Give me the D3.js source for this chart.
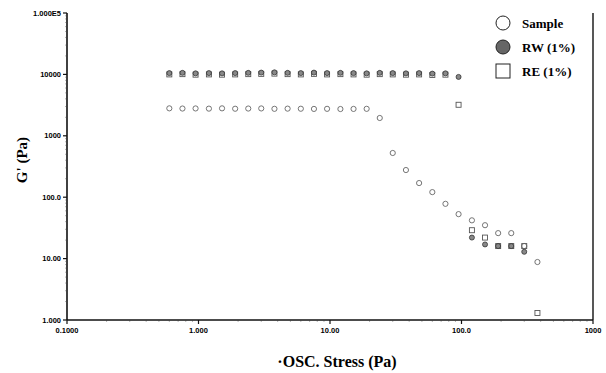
<!DOCTYPE html>
<html>
<head>
<meta charset="utf-8">
<script src="https://cdn.jsdelivr.net/npm/d3@7"></script>
<style>
  body { margin: 0; background: #fff; }
  svg { display: block; }
</style>
</head>
<body>
<svg id="viz" width="606" height="373"></svg>
<script>
// oscillation stress (Pa), one value per measuring point
var stress = [0.6, 0.755, 0.95, 1.2, 1.51, 1.9, 2.39, 3.0, 3.78, 4.76, 6.0, 7.55, 9.5, 12.0, 15.1,
              19.0, 23.9, 30.0, 37.8, 47.6, 60.0, 75.5, 95.0, 120, 151, 190, 239, 300, 378];
// G' (Pa) per series, null = no point
var sampleG = [2800, 2780, 2790, 2770, 2800, 2760, 2780, 2790, 2750, 2770, 2760, 2740, 2750, 2730, 2740,
               2750, 1950, 525, 277, 170, 121, 78, 53, 42, 35, 26, 26, 16, 8.8];
var rwG = [10500, 10600, 10400, 10500, 10400, 10500, 10600, 10700, 10800, 10600, 10500, 10700, 10500, 10600, 10500,
           10400, 10600, 10500, 10400, 10500, 10300, 10400, 9100, 22, 17, 16, 16, 12.9, null];
var reG = [10000, 10100, 9900, 10000, 9900, 10000, 10100, 10200, 10300, 10100, 10000, 10200, 10000, 10100, 10000,
           9900, 10100, 10000, 9900, 10000, 9800, 9900, 3200, 29, 22, 16, 16, 16, 1.3];

var xTicks = [0.1, 1, 10, 100, 1000];
var xTickLabels = ["0.1000", "1.000", "10.00", "100.0", "1000"];
var yTicks = [1, 10, 100, 1000, 10000, 100000];
var yTickLabels = ["1.000", "10.00", "100.0", "1000", "10000", "1.000E5"];

var legendNames = ["Sample", "RW (1%)", "RE (1%)"];

var svg = d3.select("#viz");

var xScale = d3.scaleLog().domain([0.1, 1000]).range([67, 593]);
var yScale = d3.scaleLog().domain([1, 100000]).range([320, 13]);

// minor ticks (log decades)
var xMinor = [], yMinor = [];
xTicks.slice(0, -1).forEach(function(t){ for(var k = 2; k < 10; k++) xMinor.push(t * k); });
yTicks.slice(0, -1).forEach(function(t){ for(var k = 2; k < 10; k++) yMinor.push(t * k); });

var axisCol = "#111";

// x axis
var xAxis = svg.append("g").attr("transform", "translate(0,320)");
xAxis.append("line").attr("x1", 67).attr("x2", 593).attr("y1", 0).attr("y2", 0)
  .attr("stroke", axisCol).attr("stroke-width", 1.6);
xAxis.selectAll(".xmin").data(xMinor).enter().append("line")
  .attr("x1", function(d){ return xScale(d); }).attr("x2", function(d){ return xScale(d); })
  .attr("y1", 0).attr("y2", 1.5).attr("stroke", "#444").attr("stroke-width", 0.8);
xAxis.selectAll(".xmaj").data(xTicks).enter().append("line")
  .attr("x1", function(d){ return xScale(d); }).attr("x2", function(d){ return xScale(d); })
  .attr("y1", 0).attr("y2", 4).attr("stroke", axisCol).attr("stroke-width", 1.2);
xAxis.selectAll("text").data(xTicks).enter().append("text")
  .attr("x", function(d){ return xScale(d); })
  .attr("y", 13)
  .attr("text-anchor", "middle")
  .style("font-family", "Liberation Sans, Arial, sans-serif")
  .style("font-size", "7.5px").style("font-weight", "bold")
  .text(function(d, i){ return xTickLabels[i]; });

// y axis
var yAxis = svg.append("g").attr("transform", "translate(67,0)");
yAxis.append("line").attr("x1", 0).attr("x2", 0).attr("y1", 13).attr("y2", 320)
  .attr("stroke", axisCol).attr("stroke-width", 1.6);
yAxis.selectAll(".ymin").data(yMinor).enter().append("line")
  .attr("y1", function(d){ return yScale(d); }).attr("y2", function(d){ return yScale(d); })
  .attr("x1", 0).attr("x2", -1.5).attr("stroke", "#444").attr("stroke-width", 0.8);
yAxis.selectAll(".ymaj").data(yTicks).enter().append("line")
  .attr("y1", function(d){ return yScale(d); }).attr("y2", function(d){ return yScale(d); })
  .attr("x1", 0).attr("x2", -4).attr("stroke", axisCol).attr("stroke-width", 1.2);
yAxis.selectAll("text").data(yTicks).enter().append("text")
  .attr("x", -6)
  .attr("y", function(d){ return yScale(d) + 2.5; })
  .attr("text-anchor", "end")
  .style("font-family", "Liberation Sans, Arial, sans-serif")
  .style("font-size", "7.5px").style("font-weight", "bold")
  .text(function(d, i){ return yTickLabels[i]; });

// right frame line
svg.append("line").attr("x1", 593).attr("x2", 593).attr("y1", 13).attr("y2", 320)
  .attr("stroke", axisCol).attr("stroke-width", 1.4);

// axis titles
svg.append("text")
  .attr("x", 337).attr("y", 367)
  .attr("text-anchor", "middle")
  .style("font-family", "Liberation Serif, Times New Roman, serif")
  .style("font-size", "16px").style("font-weight", "bold")
  .text("·OSC. Stress (Pa)");

svg.append("text")
  .attr("transform", "translate(27,160) rotate(-90)")
  .attr("text-anchor", "middle")
  .style("font-family", "Liberation Serif, Times New Roman, serif")
  .style("font-size", "15px").style("font-weight", "bold")
  .text("G' (Pa)");

// data points
function pts(arr){
  var out = [];
  arr.forEach(function(v, i){ if(v !== null) out.push({x: stress[i], y: v}); });
  return out;
}
var g = svg.append("g");

g.selectAll(".re").data(pts(reG)).enter().append("rect")
  .attr("class", "re")
  .attr("x", function(d){ return xScale(d.x) - 2.5; })
  .attr("y", function(d){ return yScale(d.y) - 2.5; })
  .attr("width", 5).attr("height", 5)
  .attr("fill", "none").attr("stroke", "#555").attr("stroke-width", 0.9);

g.selectAll(".rw").data(pts(rwG)).enter().append("circle")
  .attr("class", "rw")
  .attr("cx", function(d){ return xScale(d.x); })
  .attr("cy", function(d){ return yScale(d.y); })
  .attr("r", 2.5)
  .attr("fill", "#888").attr("stroke", "#333").attr("stroke-width", 0.8);

g.selectAll(".sample").data(pts(sampleG)).enter().append("circle")
  .attr("class", "sample")
  .attr("cx", function(d){ return xScale(d.x); })
  .attr("cy", function(d){ return yScale(d.y); })
  .attr("r", 2.6)
  .attr("fill", "none").attr("stroke", "#666").attr("stroke-width", 0.9);

// legend
var lg = svg.append("g");
var legY = [23, 47, 71];
lg.append("circle").attr("cx", 503).attr("cy", legY[0]).attr("r", 7)
  .attr("fill", "#fff").attr("stroke", "#222").attr("stroke-width", 1);
lg.append("circle").attr("cx", 503).attr("cy", legY[1]).attr("r", 7)
  .attr("fill", "#666").attr("stroke", "#222").attr("stroke-width", 1);
lg.append("rect").attr("x", 496).attr("y", legY[2] - 7).attr("width", 14).attr("height", 14)
  .attr("fill", "#fff").attr("stroke", "#222").attr("stroke-width", 1);
lg.selectAll("text").data(legendNames).enter().append("text")
  .attr("x", 522)
  .attr("y", function(d, i){ return legY[i] + 4.5; })
  .style("font-family", "Liberation Serif, Times New Roman, serif")
  .style("font-size", "13px").style("font-weight", "bold")
  .text(function(d){ return d; });
</script>
</body>
</html>
